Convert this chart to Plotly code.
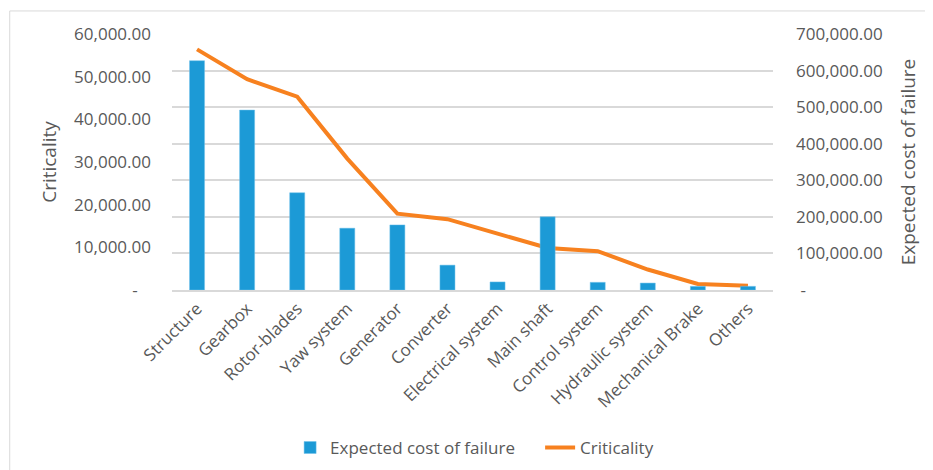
import plotly.graph_objects as go

categories = ["Structure", "Gearbox", "Rotor-blades", "Yaw system", "Generator", "Converter",
              "Electrical system", "Main shaft", "Control system", "Hydraulic system",
              "Mechanical Brake", "Others"]
expected_cost = [627000, 492000, 266000, 169000, 178000, 68000, 22000, 200000, 21000, 19000, 10000, 10000]
criticality = [56400, 49400, 45300, 30800, 17900, 16600, 13200, 9850, 9100, 4800, 1400, 1000]

left_ticks = [0, 10000, 20000, 30000, 40000, 50000, 60000]
left_text = ["-\u00a0\u00a0\u00a0"] + [f"{v:,.2f}" for v in left_ticks[1:]]
right_ticks = [0, 100000, 200000, 300000, 400000, 500000, 600000, 700000]
right_text = ["\u00a0-"] + [f"{v:,.2f}" for v in right_ticks[1:]]

font_fam = "Open Sans"
gray = "#595959"

fig = go.Figure()
fig.add_trace(go.Bar(x=categories, y=expected_cost, name="Expected cost of failure",
                     marker=dict(color="#1C9AD6", line=dict(color="#6EC1EA", width=0.5)),
                     yaxis="y2"))
fig.add_trace(go.Scatter(x=categories, y=criticality, name="Criticality", mode="lines",
                         line=dict(color="#F7811F", width=4), yaxis="y"))

fig.update_layout(
    width=933, height=470,
    margin=dict(l=164, r=168, t=26, b=188, autoexpand=False),
    paper_bgcolor="white", plot_bgcolor="white",
    font=dict(family=font_fam, size=17, color=gray),
    bargap=0.7,
    showlegend=True,
    legend=dict(orientation="h", x=0.6125, xanchor="center", y=-0.617, yanchor="middle",
                font=dict(size=17, color=gray), traceorder="normal", entrywidth=205),
    xaxis=dict(tickangle=-45, showline=True, linecolor="#D9D9D9", linewidth=2, automargin=False,
               ticks="", showgrid=False, tickfont=dict(size=17, color=gray)),
    yaxis=dict(range=[0, 60000], tickvals=left_ticks, ticktext=left_text, showgrid=False,
               zeroline=False, ticks="", ticklabelstandoff=20, automargin=False,
               title=dict(text="Criticality", font=dict(size=19, color=gray), standoff=12),
               tickfont=dict(size=17, color=gray)),
    yaxis2=dict(range=[0, 700000], tickvals=right_ticks, ticktext=right_text, overlaying="y",
                side="right", showgrid=True, gridcolor="#D9D9D9", gridwidth=1.5, zeroline=False,
                ticks="", ticklabelstandoff=22, automargin=False,
                title=dict(text="Expected cost of failure", font=dict(size=19, color=gray), standoff=20),
                tickfont=dict(size=17, color=gray)),
    shapes=[dict(type="rect", xref="paper", yref="paper", x0=-0.27, x1=1.3, y0=-0.75, y1=1.09,
                 line=dict(color="#D9D9D9", width=1), fillcolor="rgba(0,0,0,0)", layer="below")],
)

fig.write_html("out.html")
